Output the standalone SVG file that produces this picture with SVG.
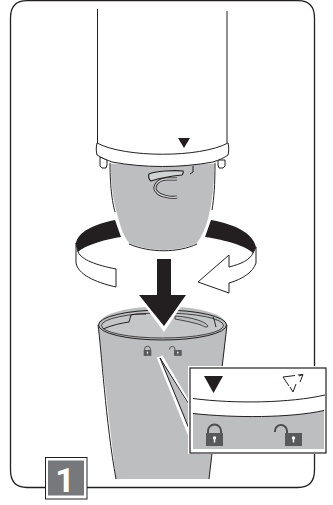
<svg xmlns="http://www.w3.org/2000/svg" width="333" height="505" viewBox="0 0 333 505">
<defs><style>
.k{stroke:#231f20;stroke-width:1;fill:none}
.w{fill:#fff;stroke:#231f20;stroke-width:1}
.g{fill:#bcbec0}
.b{fill:#231f20}
</style>
<g id="lock"><path d="M-6.500 0V-2A6.500 6.500 0 0 1 6.500-2V0" fill="none" stroke="#4d4d4f" stroke-width="2"/><rect x="-8.500" y="0" width="17" height="13" fill="#58595b"/><circle cx="0" cy="5" r="1.700" fill="#fff"/><rect x="-.7" y="5" width="1.400" height="4.500" fill="#fff"/></g>
<g id="unlock"><path d="M-11-1V-2A6 6 0 0 1 1-2V0" fill="none" stroke="#4d4d4f" stroke-width="2"/><rect x="-1" y="0" width="17" height="13" fill="#58595b"/><circle cx="7.500" cy="5" r="1.700" fill="#fff"/><rect x="6.800" y="5" width="1.400" height="4.500" fill="#fff"/></g>
</defs>
<rect width="333" height="505" fill="#fff"/>
<g id="frame"><path class="k" style="stroke-width:1.300" d="M45 487.500H27Q10.500 487.500 10.500 470V18Q10.500 .7 27 .7H298Q314.500 .7 314.500 18V470Q314.500 487.500 298 487.500H87"/></g>

<g id="rotation-arrows">
<path class="w" d="M76 243V263C78 274 94 282 116 287V269C96 265 82 260 78 252Z"/>
<path class="b" d="M115 220C94 224 78 232 76 243L78 252C84 246 102 240 121 237Z"/>
<path class="w" d="M256 247V263C253 272 243 279 229 283V293L198 282L229 255V267C241 264 250 260 253 253Z"/>
<path class="b" d="M211 220C234 224 253 233 256 247L253 253C246 246 226 240 205 237Z"/>
</g>

<g id="upper-unit">
<path d="M97.500 9V143M227 11V143" class="k"/>
<path d="M110 163C110 190 113 205 118 220C121 232 125 240 129 244C150 253 178 253 197 244C202 238 206 230 209 218C213 203 215 185 215 163Z" class="g" stroke="#fff" stroke-width="1.500"/>
<path d="M110 163C110 190 113 205 115 212M215 163C215 185 214 198 212 210" class="k" stroke-width=".7"/>
<path d="M129 244C150 253 178 253 197 244" class="k"/>
<path d="M100 157V166L102 168H106L107 165V160ZM225 160V166L223 168H219L218 165V160Z" class="w"/>
<path d="M97 143C96 147 96 151 97 155C102 158 107 160 112 162C145 168 180 168 213 162C219 160 224 158 228 155C229 151 229 147 228 143C200 158 125 158 97 143Z" class="w"/>
<path d="M178 138H190L184 148Z" class="b"/>
<path d="M149 174C155 171 175 170 183 171C184 173 183 174 182 175C172 176 160 178 151 181C149 180 148 176 149 174Z" fill="#d1d3d4" stroke="#231f20" stroke-width="1.200"/>
<path d="M177 179H166C155 180 153 189 157 192C160 196 170 198 177 197" fill="none" stroke="#231f20" stroke-width="3"/>
<path d="M177 179H166C155 180 153 189 157 192C160 196 170 198 177 197" fill="none" stroke="#d1d3d4" stroke-width="1.300"/>
<path d="M193 166V172L190 174" class="k" stroke-width=".8"/>
</g>

<g id="lower-unit">
<path d="M98 325L116 479H209L227 325C222 300 103 300 98 325Z" class="g"/>
<path d="M98 325C101 345 106 425 116 479M227 325L209 479" class="k" stroke-width=".8"/>
<ellipse cx="162.500" cy="325" rx="64" ry="15" fill="#bcbec0" stroke="#231f20"/>
<ellipse cx="162.500" cy="325.500" rx="61" ry="12.500" fill="#c4c6c8" stroke="#231f20" stroke-width=".8"/>
<path d="M103 329C112 325 122 323 129 322L131 315C134 314 140 314 146 314" class="k" stroke-width=".8"/>
<path d="M175 316C190 317 205 321 208 326C207 328 205 327 201 325C195 323 186 321 175 319Z" fill="#bcbec0" stroke="#231f20" stroke-width=".8"/>
<path d="M213 317C215 321 215 324 216 327" class="k" stroke-width="2"/>
<use href="#lock" transform="translate(147.500 350) scale(.45)"/>
<use href="#unlock" transform="translate(174.500 350) scale(.45)"/>
</g>

<g id="down-arrow">
<path d="M135 293L164 332L190 293L186 295L164 326L139 295Z" fill="#fff"/>
<path d="M157 259H171V295H186L164 326L139 295H157Z" class="b"/>
</g>

<g id="callout">
<path d="M160 358L190 433V406Z" fill="#bcbec0"/>
<path d="M158 357L189 434" fill="none" stroke="#fff" stroke-width="3"/>
<path d="M161 356L190 405" fill="none" stroke="#fff" stroke-width="3"/>
<path d="M160 358L190 406M160 358L190 431" class="k"/>
<rect x="188" y="366" width="140" height="88" fill="#fff"/>
<rect x="190" y="368" width="136" height="85" fill="#fff" stroke="#231f20" stroke-width="1.200"/>
<path d="M193 413.500C235 418 290 418 324 410.500V449H193Z" class="g"/>
<path d="M193 413.500C235 418 290 418 324 410.500" class="k"/>
<path d="M193 398.500C235 404 290 403 325 395" class="k"/>
<path d="M204 376H223L213.500 393Z" class="b"/>
<path d="M283 377L295 375.500M283 377L289 386M298 375L303 374.500L300 382M303 374.500L299 376M296 384L293 392L290 387" class="k" stroke-width=".9"/>
<use href="#lock" transform="translate(214.500 433)"/>
<use href="#unlock" transform="translate(286 433)"/>
</g>

<g id="step-badge">
<rect x="45.500" y="457.500" width="41.500" height="41.500" fill="#fff" stroke="#231f20" stroke-width="1"/>
<rect x="48" y="460.500" width="36" height="35" fill="#77787b"/>
<text x="65" y="492" text-anchor="middle" font-family="Roboto, Arial, sans-serif" font-weight="700" font-size="34" fill="#fff">1</text>
</g>
</svg>
